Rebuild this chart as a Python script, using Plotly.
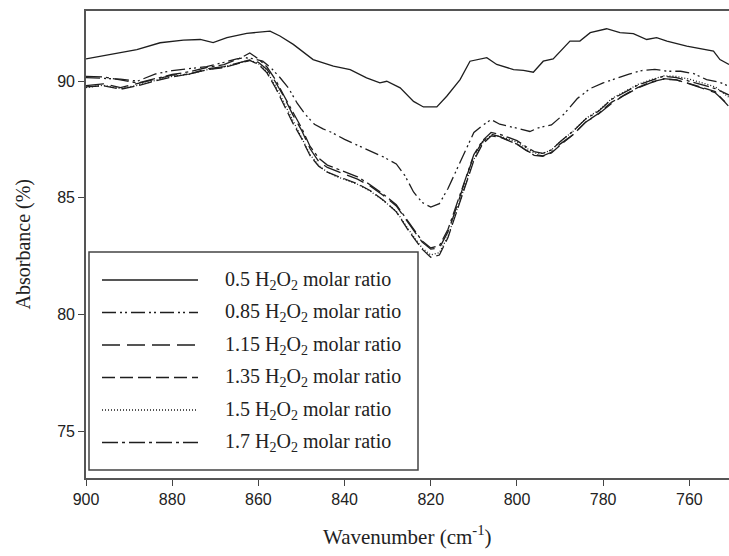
import plotly.graph_objects as go

# ---------------- data ----------------
W05 = [900, 890.5, 888.2, 882.8, 877.4, 873.5, 870.5, 867.3, 862.7, 857.3,
       855.0, 851.9, 847.3, 842.6, 838.7, 834.9, 831.8, 830.2, 827.1, 824.0,
       821.7, 818.6, 816.3, 813.2, 810.9, 807.0, 804.7, 800.8, 798.5, 796.2,
       793.9, 791.6, 787.7, 785.4, 783.0, 779.2, 776.1, 773.0, 769.9, 767.6,
       765.2, 760.6, 756.7, 754.4, 752.9, 750.8]
V05 = [90.95, 91.28, 91.35, 91.64, 91.75, 91.78, 91.65, 91.86, 92.04, 92.14,
       91.93, 91.57, 90.92, 90.64, 90.49, 90.14, 89.92, 89.99, 89.71, 89.13,
       88.89, 88.89, 89.35, 90.06, 90.85, 91.00, 90.71, 90.49, 90.46, 90.38,
       90.85, 90.95, 91.71, 91.71, 92.07, 92.24, 92.07, 92.03, 91.78, 91.86,
       91.71, 91.50, 91.35, 91.28, 90.92, 90.71]

W085 = [900, 896, 892, 888, 884, 880, 876, 872, 868, 865, 863, 861, 859, 857,
        855, 853, 851, 849, 847, 845, 843, 840, 837, 834, 831, 828, 826, 824,
        822, 820, 818, 816, 814, 812, 810, 808, 806, 804, 802, 800, 797, 795,
        792, 789, 786, 783, 780, 777, 774, 771, 768, 765, 762, 759, 756, 753, 750.8]
V085 = [90.15, 90.12, 90.08, 90.00, 90.30, 90.45, 90.52, 90.62, 90.80, 90.95,
        91.00, 90.95, 90.85, 90.55, 90.15, 89.70, 89.05, 88.55, 88.15, 87.95,
        87.80, 87.50, 87.25, 87.00, 86.75, 86.45, 85.95, 85.25, 84.80, 84.60,
        84.75, 85.40, 86.20, 87.05, 87.80, 88.10, 88.35, 88.15, 88.05, 87.98,
        87.84, 88.00, 88.12, 88.60, 89.25, 89.68, 89.92, 90.12, 90.30, 90.45,
        90.50, 90.42, 90.42, 90.32, 90.06, 89.95, 89.78]

WL = [900, 896, 892, 888, 884, 880, 876, 872, 868, 864, 862, 860, 858, 856,
      854, 852, 850, 848, 846, 844, 842, 840, 837, 834, 831, 828, 825, 822,
      820, 818, 816, 814, 812, 810, 808, 806, 804, 802, 800, 798, 796, 794,
      792, 790, 787, 784, 781, 778, 775, 772, 769, 766, 763, 760, 757, 754, 750.8]
V115 = [89.80, 89.88, 89.72, 89.90, 90.08, 90.25, 90.30, 90.52, 90.62, 90.80,
        90.90, 90.80, 90.50, 89.95, 89.30, 88.55, 87.90, 87.10, 86.55, 86.30,
        86.15, 86.00, 85.80, 85.50, 85.10, 84.65, 83.85, 83.10, 82.80, 82.85,
        83.55, 84.60, 85.75, 86.80, 87.40, 87.72, 87.62, 87.45, 87.30, 87.05,
        86.85, 86.80, 86.95, 87.30, 87.70, 88.25, 88.60, 89.05, 89.40, 89.70,
        89.92, 90.10, 90.05, 89.88, 89.70, 89.50, 88.95]
V135 = [89.75, 89.80, 89.65, 89.80, 90.00, 90.18, 90.30, 90.48, 90.58, 90.78,
        90.88, 90.72, 90.35, 89.70, 88.95, 88.20, 87.55, 86.80, 86.35, 86.10,
        85.95, 85.80, 85.60, 85.30, 84.90, 84.40, 83.55, 82.80, 82.45, 82.55,
        83.30, 84.40, 85.55, 86.60, 87.30, 87.65, 87.60, 87.45, 87.30, 87.05,
        86.82, 86.78, 86.92, 87.25, 87.70, 88.25, 88.62, 89.10, 89.42, 89.72,
        89.95, 90.08, 90.05, 89.90, 89.72, 89.55, 88.90]
V150 = [89.72, 89.82, 89.68, 89.82, 90.02, 90.20, 90.30, 90.48, 90.60, 90.80,
        90.90, 90.75, 90.40, 89.78, 89.05, 88.28, 87.60, 86.85, 86.38, 86.10,
        85.92, 85.78, 85.58, 85.28, 84.88, 84.42, 83.60, 82.85, 82.55, 82.65,
        83.35, 84.45, 85.60, 86.65, 87.35, 87.68, 87.65, 87.52, 87.38, 87.15,
        86.92, 86.90, 87.05, 87.40, 87.85, 88.40, 88.75, 89.25, 89.55, 89.85,
        90.05, 90.22, 90.20, 90.08, 89.92, 89.75, 89.30]
V170 = [90.20, 90.18, 90.05, 89.92, 90.10, 90.28, 90.40, 90.58, 90.70, 91.00,
        91.20, 90.95, 90.60, 90.05, 89.35, 88.65, 88.00, 87.20, 86.70, 86.40,
        86.25, 86.10, 85.90, 85.55, 85.15, 84.70, 83.90, 83.15, 82.85, 82.95,
        83.65, 84.70, 85.80, 86.85, 87.45, 87.80, 87.72, 87.58, 87.45, 87.20,
        86.98, 86.90, 87.05, 87.40, 87.85, 88.38, 88.72, 89.22, 89.52, 89.82,
        90.02, 90.20, 90.15, 90.00, 89.85, 89.68, 89.40]

LABELS = ["0.5", "0.85", "1.15", "1.35", "1.5", "1.7"]
X_TICKS = [900, 880, 860, 840, 820, 800, 780, 760]
Y_TICKS = [75, 80, 85, 90]

# ---------------- styles ----------------
DASHES = ["solid",
          "14px,4px,2px,3px,2px,4px",
          "18px,7px",
          "13px,5px",
          "1px,2px",
          "16px,4px,3px,4px"]
LINE_COLOR = "#1e1e1e"

series = [(W05, V05), (W085, V085), (WL, V115), (WL, V135), (WL, V150), (WL, V170)]

fig = go.Figure()
for (xs, ys), lab, d in zip(series, LABELS, DASHES):
    fig.add_trace(go.Scatter(x=xs, y=ys, mode="lines", name=lab,
                             line=dict(color=LINE_COLOR, width=1.3, dash=d),
                             showlegend=False, hoverinfo="skip"))

# ---------------- custom legend (box, samples, text) ----------------
L, R, T, B = 86, 729, 11, 478
def px(x):
    return (x - L) / (R - L)
def py(y):
    return (B - y) / (B - T)

shapes = [dict(type="rect", xref="paper", yref="paper",
               x0=px(89), x1=px(418), y0=py(470), y1=py(252),
               line=dict(color="#444", width=1.5), fillcolor="white", layer="above")]
annotations = []
rows = [280, 312.5, 345, 377.5, 410, 442.5]
for lab, d, r in zip(LABELS, DASHES, rows):
    shapes.append(dict(type="line", xref="paper", yref="paper",
                       x0=px(102), x1=px(198), y0=py(r), y1=py(r),
                       line=dict(color=LINE_COLOR, width=1.3, dash=d), layer="above"))
    annotations.append(dict(xref="paper", yref="paper", x=px(223), y=py(r),
                            xanchor="left", yanchor="middle", showarrow=False,
                            text=f"{lab} H<sub>2</sub>O<sub>2</sub> molar ratio",
                            font=dict(family="Liberation Serif", size=20, color="#222")))

# axis titles
annotations.append(dict(xref="paper", yref="paper", x=0.5, y=py(535),
                        xanchor="center", yanchor="middle", showarrow=False,
                        text="Wavenumber (cm<sup>-1</sup>)",
                        font=dict(family="Liberation Serif", size=21, color="#222")))
annotations.append(dict(xref="paper", yref="paper", x=px(23), y=0.5,
                        xanchor="center", yanchor="middle", showarrow=False,
                        textangle=-90, text="Absorbance (%)",
                        font=dict(family="Liberation Serif", size=20, color="#222")))

tickfont = dict(family="Liberation Sans", size=16, color="#222")
fig.update_layout(
    width=729, height=556,
    margin=dict(l=L, r=729 - R, t=T, b=556 - B, autoexpand=False),
    paper_bgcolor="white", plot_bgcolor="white",
    showlegend=False,
    shapes=shapes, annotations=annotations,
    xaxis=dict(range=[900, 750.8], tickvals=X_TICKS, ticks="outside", ticklen=6,
               tickcolor="#444", tickwidth=1.3, showline=True, linecolor="#555",
               linewidth=1.8, mirror=True, showgrid=False, zeroline=False,
               tickfont=tickfont, automargin=False),
    yaxis=dict(range=[73, 93], tickvals=Y_TICKS, ticks="outside", ticklen=6,
               tickcolor="#444", tickwidth=1.3, showline=True, linecolor="#555",
               linewidth=1.6, showgrid=False, zeroline=False,
               tickfont=tickfont, automargin=False),
)

fig.write_html("out.html",
               config={"displayModeBar": False},
               post_script="document.body.style.margin='0';"
                           "document.body.style.overflow='hidden';")
